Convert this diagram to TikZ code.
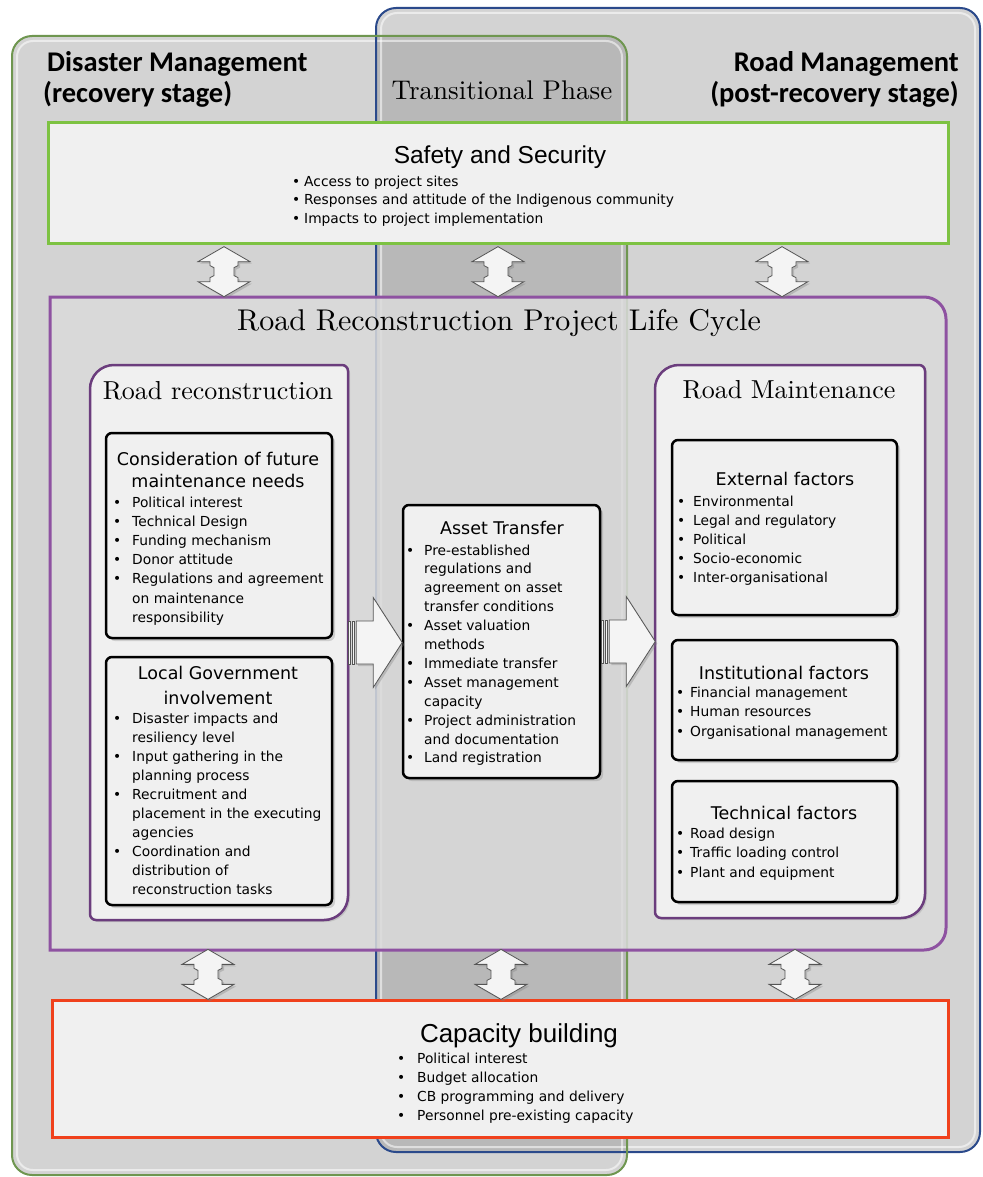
\documentclass[tikz,border=0pt]{standalone}
\usepackage{fontspec}
\usetikzlibrary{shadows,calc}
\newfontfamily\hdfont{Carlito}
\newfontfamily\bodyfont{DejaVu Sans}
\newfontfamily\arialfont{Liberation Sans}
% the 10pt design size keeps the large serif headings from turning hairline-thin
\newfontfamily\seriffont{lmroman10-regular.otf}

\definecolor{bgA}{HTML}{D3D3D3}
\definecolor{bgB}{HTML}{B8B8B8}
\definecolor{dmgreen}{HTML}{6F9650}
\definecolor{rmblue}{HTML}{2B4A8B}
\definecolor{safegreen}{HTML}{7DC242}
\definecolor{lcpurple}{HTML}{8E52A1}
\definecolor{lcfill}{HTML}{DBDBDB}
\definecolor{inpurple}{HTML}{6B3D7D}
\definecolor{cbred}{HTML}{F0411C}
\definecolor{boxfill}{HTML}{F0F0F0}
\definecolor{arrowedge}{HTML}{555555}
\definecolor{arrowfill}{HTML}{F4F4F4}

% bullet marker and continuation indent for the hand-broken lists
\newcommand\bu[1]{\makebox[#1][l]{\textbullet}}
\newcommand\cu[1]{\hspace*{#1}}

\tikzset{
  phasehead/.style={inner sep=0, font=\hdfont\bfseries\fontsize{28.5}{32}\selectfont},
  serifhead/.style={anchor=base, inner sep=0, font=\seriffont\fontsize{#1}{#1}\selectfont},
  boxtitle/.style={anchor=base, inner sep=0, font=\bodyfont\fontsize{17.5}{#1}\selectfont},
  bulletlist/.style={anchor=base west, inner sep=0, font=\bodyfont\fontsize{13.8}{#1}\selectfont},
  innerbox/.style={draw=black, line width=2.5, rounded corners=6, fill=boxfill, inner sep=0,
    drop shadow={shadow xshift=3pt, shadow yshift=-3pt, opacity=0.3}},
  bandbox/.style={line width=3, fill=boxfill, inner sep=0},
  anchorbox/.style={inner sep=0},
  bevel/.style={white, opacity=0.55, line width=2, rounded corners=16},
  dblarrow/.pic={
    \draw[arrowedge, line width=0.8, fill=arrowfill,
          drop shadow={shadow xshift=2pt, shadow yshift=-2pt, opacity=0.35}]
      (0,25) -- (26,10) -- (14,10) -- (14,6) -- (10,4) -- (10,-4) -- (14,-6) -- (14,-10)
      -- (26,-10) -- (0,-25) -- (-26,-10) -- (-14,-10) -- (-14,-6) -- (-10,-4) -- (-10,4)
      -- (-14,6) -- (-14,10) -- (-26,10) -- cycle;
  },
  bigarrow/.pic={
    \draw[arrowedge, line width=0.8, fill=arrowfill] (0,-21.5) rectangle (2.5,21.5);
    \draw[arrowedge, line width=0.8, fill=arrowfill] (4,-21.5) rectangle (6.5,21.5);
    \draw[arrowedge, line width=0.8, fill=arrowfill,
          drop shadow={shadow xshift=2pt, shadow yshift=-2pt, opacity=0.35}]
      (8,21.5) -- (25,21.5) -- (25,45) -- (54,0) -- (25,-45) -- (25,-21.5) -- (8,-21.5) -- cycle;
  }
}

\begin{document}
\begin{tikzpicture}[x=1pt, y=1pt]
\useasboundingbox (0,0) rectangle (982,-1177);

% --- the two stage panels and their overlap ---
\fill[bgA, rounded corners=20] (376,-8) rectangle (980,-1152);
\fill[bgA, rounded corners=20] (12,-36) rectangle (627,-1175);
\begin{scope}
  \clip[rounded corners=20] (376,-8) rectangle (980,-1152);
  \fill[bgB, rounded corners=20] (12,-36) rectangle (627,-1175);
\end{scope}
\draw[bevel] (17,-41) rectangle (622,-1170);
\draw[bevel] (381,-13) rectangle (975,-1147);
\draw[rmblue, line width=2, rounded corners=20] (376,-8) rectangle (980,-1152);
\draw[dmgreen, line width=2, rounded corners=20] (12,-36) rectangle (627,-1175);

\node[phasehead, anchor=base west] (dm1) at (47,-72) {Disaster Management};
\node[phasehead, anchor=base west] (dm2) at (43,-103) {(recovery stage)};
\node[phasehead, anchor=base east] (rmh1) at (959,-72) {Road Management};
\node[phasehead, anchor=base east] (rmh2) at (959,-103) {(post-recovery stage)};
\node[serifhead=27] (tp) at (502,-100) {Transitional Phase};

% --- safety and security band ---
\node[bandbox, draw=safegreen, minimum width=900, minimum height=120] (safety) at (498,-183) {};
\node[anchor=base, inner sep=0, font=\arialfont\fontsize{24.5}{28}\selectfont] (safetyt) at (500,-164) {Safety and Security};
\node[bulletlist=18.5] (safetyl) at (292,-186) {\begin{tabular}[t]{@{}l@{}}
\bu{12pt}Access to project sites\\
\bu{12pt}Responses and attitude of the Indigenous community\\
\bu{12pt}Impacts to project implementation
\end{tabular}};

% --- project life cycle panel ---
\draw[lcpurple, line width=3, fill=lcfill, fill opacity=0.85]
  (50,-297) -- (924,-297) arc[start angle=90, end angle=0, radius=22]
  -- (946,-928) arc[start angle=0, end angle=-90, radius=22] -- (50,-950) -- cycle;
\node[anchorbox, minimum width=896, minimum height=653] (lc) at (498,-623.5) {};
\node[serifhead=30] (lct) at (499,-330) {Road Reconstruction Project Life Cycle};

% --- capacity building band ---
\node[bandbox, draw=cbred, minimum width=896, minimum height=137] (cap) at (500,-1068.5) {};
\node[anchor=base, inner sep=0, font=\arialfont\fontsize{26}{30}\selectfont] (capt) at (519,-1042) {Capacity building};
\node[bulletlist=19] (capl) at (397,-1063) {\begin{tabular}[t]{@{}l@{}}
\bu{20pt}Political interest\\
\bu{20pt}Budget allocation\\
\bu{20pt}CB programming and delivery\\
\bu{20pt}Personnel pre-existing capacity
\end{tabular}};

% --- road reconstruction column ---
\draw[inpurple, line width=2.5, fill=boxfill, drop shadow={shadow xshift=2pt, shadow yshift=-2pt, opacity=0.25}]
  (90,-389) arc[start angle=180, end angle=90, radius=24] -- (342,-365)
  arc[start angle=90, end angle=0, radius=6] -- (348,-896)
  arc[start angle=0, end angle=-90, radius=24] -- (96,-920)
  arc[start angle=270, end angle=180, radius=6] -- cycle;
\node[anchorbox, minimum width=258, minimum height=555] (rr) at (219,-642.5) {};
\node[serifhead=26] (rrt) at (218,-399) {Road reconstruction};

\node[innerbox, minimum width=226, minimum height=205] (cons) at (219,-535.5) {};
\node[boxtitle=22] (const) at (218,-465) {\begin{tabular}[t]{@{}c@{}}Consideration of future\\maintenance needs\end{tabular}};
\node[bulletlist=19.2] (consl) at (113,-507) {\begin{tabular}[t]{@{}l@{}}
\bu{19pt}Political interest\\
\bu{19pt}Technical Design\\
\bu{19pt}Funding mechanism\\
\bu{19pt}Donor attitude\\
\bu{19pt}Regulations and agreement\\
\cu{19pt}on maintenance\\
\cu{19pt}responsibility
\end{tabular}};

\node[innerbox, minimum width=226, minimum height=248] (locg) at (219,-781) {};
\node[boxtitle=25] (locgt) at (218,-679) {\begin{tabular}[t]{@{}c@{}}Local Government\\involvement\end{tabular}};
\node[bulletlist=19] (locgl) at (113,-723) {\begin{tabular}[t]{@{}l@{}}
\bu{19pt}Disaster impacts and\\
\cu{19pt}resiliency level\\
\bu{19pt}Input gathering in the\\
\cu{19pt}planning process\\
\bu{19pt}Recruitment and\\
\cu{19pt}placement in the executing\\
\cu{19pt}agencies\\
\bu{19pt}Coordination and\\
\cu{19pt}distribution of\\
\cu{19pt}reconstruction tasks
\end{tabular}};

% --- asset transfer ---
\node[innerbox, minimum width=197, minimum height=273] (asset) at (501.5,-641.5) {};
\node[boxtitle=22] (assett) at (502,-534) {Asset Transfer};
\node[bulletlist=18.9] (assetl) at (406,-555) {\begin{tabular}[t]{@{}l@{}}
\bu{18pt}Pre-established\\
\cu{18pt}regulations and\\
\cu{18pt}agreement on asset\\
\cu{18pt}transfer conditions\\
\bu{18pt}Asset valuation\\
\cu{18pt}methods\\
\bu{18pt}Immediate transfer\\
\bu{18pt}Asset management\\
\cu{18pt}capacity\\
\bu{18pt}Project administration\\
\cu{18pt}and documentation\\
\bu{18pt}Land registration
\end{tabular}};

% --- road maintenance column ---
\draw[inpurple, line width=2.5, fill=boxfill, drop shadow={shadow xshift=2pt, shadow yshift=-2pt, opacity=0.25}]
  (655,-389) arc[start angle=180, end angle=90, radius=24] -- (919,-365)
  arc[start angle=90, end angle=0, radius=6] -- (925,-894)
  arc[start angle=0, end angle=-90, radius=24] -- (661,-918)
  arc[start angle=270, end angle=180, radius=6] -- cycle;
\node[anchorbox, minimum width=270, minimum height=553] (rm) at (790,-641.5) {};
\node[serifhead=26] (rmt) at (789,-398) {Road Maintenance};

\node[innerbox, minimum width=225, minimum height=175] (ext) at (784.5,-527.5) {};
\node[boxtitle=22] (extt) at (785,-485) {External factors};
\node[bulletlist=19] (extl) at (677,-506) {\begin{tabular}[t]{@{}l@{}}
\bu{16pt}Environmental\\
\bu{16pt}Legal and regulatory\\
\bu{16pt}Political\\
\bu{16pt}Socio-economic\\
\bu{16pt}Inter-organisational
\end{tabular}};

\node[innerbox, minimum width=225, minimum height=120] (inst) at (784.5,-700) {};
\node[boxtitle=22] (instt) at (784,-679) {Institutional factors};
\node[bulletlist=19.5] (instl) at (676,-697) {\begin{tabular}[t]{@{}l@{}}
\bu{14pt}Financial management\\
\bu{14pt}Human resources\\
\bu{14pt}Organisational management
\end{tabular}};

\node[innerbox, minimum width=225, minimum height=121] (tech) at (784.5,-841.5) {};
\node[boxtitle=22] (techt) at (784,-819) {Technical factors};
\node[bulletlist=19.5] (techl) at (676,-838) {\begin{tabular}[t]{@{}l@{}}
\bu{14pt}Road design\\
\bu{14pt}Traffic loading control\\
\bu{14pt}Plant and equipment
\end{tabular}};

% --- flow arrows between the phases of the life cycle ---
\pic at (rr.east) {bigarrow};
\pic at (asset.east) {bigarrow};

% --- two-way links to the safety and capacity bands ---
\pic at ($(safety.south)!0.5!(lc.north)+(-274,-1)$) {dblarrow};
\pic at ($(safety.south)!0.5!(lc.north)+(0,-1)$) {dblarrow};
\pic at ($(safety.south)!0.5!(lc.north)+(284,-1)$) {dblarrow};
\pic at ($(lc.south)!0.5!(cap.north)+(-291,0)$) {dblarrow};
\pic at ($(lc.south)!0.5!(cap.north)+(2,0)$) {dblarrow};
\pic at ($(lc.south)!0.5!(cap.north)+(296,0)$) {dblarrow};
\end{tikzpicture}
\end{document}
